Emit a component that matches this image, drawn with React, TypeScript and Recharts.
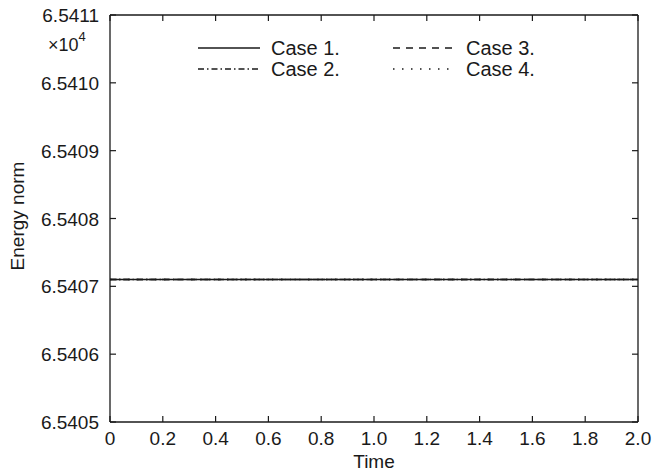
import { LineChart, Line, XAxis, YAxis } from "recharts";

const times = [0, 0.2, 0.4, 0.6, 0.8, 1.0, 1.2, 1.4, 1.6, 1.8, 2.0];
const case1 = [6.54071, 6.54071, 6.54071, 6.54071, 6.54071, 6.54071, 6.54071, 6.54071, 6.54071, 6.54071, 6.54071];
const case2 = [6.54071, 6.54071, 6.54071, 6.54071, 6.54071, 6.54071, 6.54071, 6.54071, 6.54071, 6.54071, 6.54071];
const case3 = [6.54071, 6.54071, 6.54071, 6.54071, 6.54071, 6.54071, 6.54071, 6.54071, 6.54071, 6.54071, 6.54071];
const case4 = [6.54071, 6.54071, 6.54071, 6.54071, 6.54071, 6.54071, 6.54071, 6.54071, 6.54071, 6.54071, 6.54071];
const xTicks = [0, 0.2, 0.4, 0.6, 0.8, 1.0, 1.2, 1.4, 1.6, 1.8, 2.0];
const yTicks = [6.5405, 6.5406, 6.5407, 6.5408, 6.5409, 6.541, 6.5411];

const data = times.map((t, i) => ({
  time: t,
  c1: case1[i],
  c2: case2[i],
  c3: case3[i],
  c4: case4[i],
}));

const FONT = "'Liberation Sans', Arial, Helvetica, sans-serif";
const INK = "#1a1a1a";

const series = [
  { key: "c1", name: "Case 1.", dash: undefined },
  { key: "c2", name: "Case 2.", dash: "6 3 1.5 3" },
  { key: "c3", name: "Case 3.", dash: "7 6" },
  { key: "c4", name: "Case 4.", dash: "1.5 7.5" },
];

const LeftTick = (props: any) => {
  const { x, y, payload } = props;
  return (
    <g>
      <line x1={x} x2={x + 6} y1={y} y2={y} stroke={INK} strokeWidth={1.2} />
      <text x={x - 11} y={y} dy={7} textAnchor="end" fontSize={19} fontFamily={FONT} fill={INK}>
        {payload.value.toFixed(4)}
      </text>
    </g>
  );
};

const RightTick = (props: any) => {
  const { x, y } = props;
  return <line x1={x} x2={x - 6} y1={y} y2={y} stroke={INK} strokeWidth={1.2} />;
};

const BottomTick = (props: any) => {
  const { x, y, payload } = props;
  const v = payload.value;
  return (
    <g>
      <line x1={x} x2={x} y1={y} y2={y - 6} stroke={INK} strokeWidth={1.2} />
      <text x={x} y={y + 23} textAnchor="middle" fontSize={19} fontFamily={FONT} fill={INK}>
        {v === 0 ? "0" : v.toFixed(1)}
      </text>
    </g>
  );
};

const TopTick = (props: any) => {
  const { x, y } = props;
  return <line x1={x} x2={x} y1={y} y2={y + 6} stroke={INK} strokeWidth={1.2} />;
};

const Decorations = () => (
  <g fontFamily={FONT} fill={INK}>
    <text x={374} y={468} textAnchor="middle" fontSize={19}>
      Time
    </text>
    <text x={48} y={51} fontSize={18}>
      ×10<tspan dy={-10} fontSize={13}>4</tspan>
    </text>
    <text x={24} y={216} transform="rotate(-90 24 216)" textAnchor="middle" fontSize={19}>
      Energy norm
    </text>
    {series.map((s, i) => {
      const col = i < 2 ? 0 : 1;
      const row = i % 2;
      const lx = 198 + col * 195;
      const ly = 48 + row * 21;
      return (
        <g key={s.key}>
          <line x1={lx} x2={lx + 62} y1={ly} y2={ly} stroke={INK} strokeWidth={1.3} strokeDasharray={s.dash} />
          <text x={lx + 73} y={ly + 7} fontSize={20}>
            {s.name}
          </text>
        </g>
      );
    })}
  </g>
);

export default function App() {
  return (
    <div style={{ position: "absolute", left: 0, top: 0, background: "#fff" }}>
      <LineChart width={670} height={473} data={data} margin={{ top: 14, right: 31, bottom: 21, left: 0 }}>
        <XAxis
          xAxisId="b"
          dataKey="time"
          type="number"
          domain={[0, 2]}
          ticks={xTicks}
          height={30}
          tickSize={0}
          tickMargin={0}
          tick={<BottomTick />}
          axisLine={{ stroke: INK, strokeWidth: 1.3 }}
          interval={0}
          label={{ content: () => <Decorations /> }}
        />
        <XAxis
          xAxisId="t"
          orientation="top"
          dataKey="time"
          type="number"
          domain={[0, 2]}
          ticks={xTicks}
          height={1}
          tickSize={0}
          tickMargin={0}
          tick={<TopTick />}
          axisLine={{ stroke: INK, strokeWidth: 1.3 }}
          interval={0}
        />
        <YAxis
          yAxisId="l"
          type="number"
          domain={[6.5405, 6.5411]}
          ticks={yTicks}
          width={110}
          tickSize={0}
          tickMargin={0}
          tick={<LeftTick />}
          axisLine={{ stroke: INK, strokeWidth: 1.3 }}
          interval={0}
        />
        <YAxis
          yAxisId="r"
          orientation="right"
          type="number"
          domain={[6.5405, 6.5411]}
          ticks={yTicks}
          width={1}
          tickSize={0}
          tickMargin={0}
          tick={<RightTick />}
          axisLine={{ stroke: INK, strokeWidth: 1.3 }}
          interval={0}
        />
        {[...series].reverse().map((s, i) => (
          <Line
            key={s.key}
            xAxisId={i === 0 ? "t" : "b"}
            yAxisId={i === 0 ? "r" : "l"}
            dataKey={s.key}
            name={s.name}
            stroke={INK}
            strokeWidth={1.4}
            strokeDasharray={s.dash}
            dot={false}
            isAnimationActive={false}
          />
        ))}
      </LineChart>
    </div>
  );
}
